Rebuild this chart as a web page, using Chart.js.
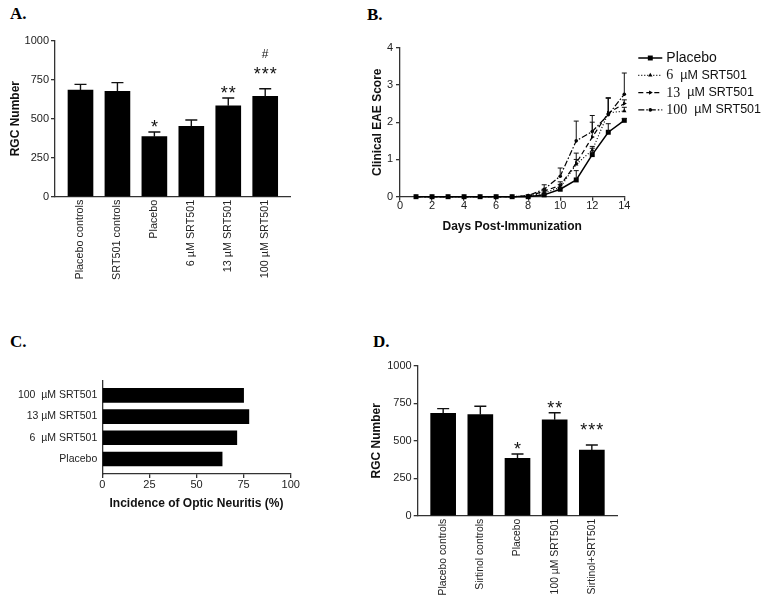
<!DOCTYPE html>
<html>
<head>
<meta charset="utf-8">
<script src="https://cdn.jsdelivr.net/npm/chart.js@4/dist/chart.umd.min.js"></script>
<style>
html, body { margin: 0; padding: 0; background: #fff; }
body { width: 762px; height: 603px; position: relative; overflow: hidden; }
canvas { position: absolute; }
.tag { position: absolute; font: bold 17px "Liberation Serif", "Times New Roman", serif; line-height: 17px; color: #000; }
</style>
</head>
<body>
<div class="tag" style="left:10px;top:5px">A.</div>
<div class="tag" style="left:367px;top:6px">B.</div>
<div class="tag" style="left:10px;top:333px">C.</div>
<div class="tag" style="left:373px;top:333px">D.</div>

<canvas id="chartA" width="300" height="300" style="left:0;top:0"></canvas>
<canvas id="chartB" width="402" height="250" style="left:360px;top:0"></canvas>
<canvas id="chartC" width="340" height="200" style="left:0;top:320px"></canvas>
<canvas id="chartD" width="280" height="283" style="left:360px;top:320px"></canvas>

<script>
// ---- data ----

// A: RGC number per group
const groupsA = ['Placebo controls', 'SRT501 controls', 'Placebo', '6 µM SRT501', '13 µM SRT501', '100 µM SRT501'];
const rgcA = [684, 676, 385, 451, 583, 643];
const semA = [36, 55, 30, 41, 50, 49];
const starsA = ['', '', '*', '', '**', '***'];
const hashA = ['', '', '', '', '', '#'];

// B: clinical EAE score by day
const daysB = [1, 2, 3, 4, 5, 6, 7, 8, 9, 10, 11, 12, 13, 14];
const placeboB = [0, 0, 0, 0, 0, 0, 0, 0, 0.05, 0.2, 0.45, 1.13, 1.73, 2.05];
const semPlaceboB = [0, 0, 0, 0, 0, 0, 0, 0, 0.02, 0.05, 0.25, 0.17, 0.23, 0.05];
const srt6B = [0, 0, 0, 0, 0, 0, 0, 0.02, 0.1, 0.25, 0.87, 1.25, 2.25, 2.3];
const semSrt6B = [0, 0, 0, 0, 0, 0, 0, 0, 0.05, 0.08, 0.3, 0.1, 0.4, 0.1];
const srt13B = [0, 0, 0, 0, 0, 0, 0, 0.01, 0.15, 0.3, 0.9, 1.6, 2.25, 2.5];
const semSrt13B = [0, 0, 0, 0, 0, 0, 0, 0, 0.05, 0.1, 0.1, 0.4, 0.4, 0.1];
const srt100B = [0, 0, 0, 0, 0, 0, 0, 0.03, 0.2, 0.55, 1.5, 1.75, 2.2, 2.75];
const semSrt100B = [0, 0, 0, 0, 0, 0, 0, 0, 0.12, 0.22, 0.53, 0.43, 0.45, 0.57];
const seriesNamesB = ['Placebo', '6  µM SRT501', '13  µM SRT501', '100  µM SRT501'];

// C: incidence of optic neuritis (%), bottom to top
const groupsC = ['Placebo', '6  µM SRT501', '13 µM SRT501', '100  µM SRT501'];
const incidenceC = [63.6, 71.4, 77.8, 75];

// D: RGC number with sirtinol
const groupsD = ['Placebo controls', 'Sirtinol controls', 'Placebo', '100 µM SRT501', 'Sirtinol+SRT501'];
const rgcD = [684, 675, 383, 641, 439];
const semD = [31, 56, 29, 47, 33];
const starsD = ['', '', '*', '**', '***'];

// ---- defaults ----
Chart.defaults.font.family = '"Liberation Sans", Arial, Helvetica, sans-serif';
Chart.defaults.font.size = 11;
Chart.defaults.color = '#222';
Chart.defaults.animation = false;
Chart.defaults.plugins.legend.display = false;
Chart.defaults.plugins.tooltip.enabled = false;

const AXIS = '#333';
const axisBorder = { color: AXIS, width: 1.3 };
const axisGrid = { drawOnChartArea: false, tickLength: 4, color: AXIS, lineWidth: 1.3 };
const noGrid = { display: false, drawTicks: false, offset: false };
const titleFont = { size: 12, weight: 'bold' };
const plain = v => String(v);

// upward-only error bars, drawn through the y scale
function errorBarPlugin(errs, capHalf, width) {
    return {
        id: 'errbars',
        afterDatasetsDraw(chart) {
            const ctx = chart.ctx, yScale = chart.scales.y;
            ctx.save();
            ctx.strokeStyle = '#111';
            ctx.lineWidth = width;
            chart.data.datasets.forEach((ds, di) => {
                const e = errs[di];
                if (!e) return;
                chart.getDatasetMeta(di).data.forEach((el, i) => {
                    if (!e[i]) return;
                    const top = yScale.getPixelForValue(ds.data[i].y + e[i]);
                    ctx.beginPath();
                    ctx.moveTo(el.x, el.y);
                    ctx.lineTo(el.x, top);
                    ctx.moveTo(el.x - capHalf, top);
                    ctx.lineTo(el.x + capHalf, top);
                    ctx.stroke();
                });
            });
            ctx.restore();
        }
    };
}

// significance marks above the error caps
function starPlugin(values, errs, stars, hashes) {
    return {
        id: 'stars',
        afterDatasetsDraw(chart) {
            const ctx = chart.ctx, yScale = chart.scales.y;
            const bars = chart.getDatasetMeta(0).data;
            ctx.save();
            ctx.fillStyle = '#111';
            ctx.textAlign = 'center';
            ctx.textBaseline = 'alphabetic';
            stars.forEach((s, i) => {
                if (!s) return;
                const cap = yScale.getPixelForValue(values[i] + errs[i]);
                const base = cap + 1 - (s.length > 2 ? 10 : 0);
                ctx.font = '18px "Liberation Sans", Arial, sans-serif';
                ctx.letterSpacing = '1px';
                ctx.fillText(s, bars[i].x + 0.5, base);
                if (hashes && hashes[i]) {
                    ctx.letterSpacing = '0px';
                    ctx.font = '12px "Liberation Sans", Arial, sans-serif';
                    ctx.fillText(hashes[i], bars[i].x, base - 22);
                }
            });
            ctx.restore();
        }
    };
}

function drawMarker(ctx, style, x, y, r, rot) {
    ctx.beginPath();
    if (style === 'rect') {
        const s = Math.SQRT1_2 * r;
        ctx.rect(x - s, y - s, 2 * s, 2 * s);
    } else if (style === 'triangle') {
        let a = rot * Math.PI / 180;
        ctx.moveTo(x + Math.sin(a) * r, y - Math.cos(a) * r);
        for (let k = 0; k < 2; k++) {
            a += 2 * Math.PI / 3;
            ctx.lineTo(x + Math.sin(a) * r, y - Math.cos(a) * r);
        }
        ctx.closePath();
    } else {
        ctx.arc(x, y, r, 0, Math.PI * 2);
    }
    ctx.fill();
}

// legend to the right of panel B
const sideLegend = {
    id: 'sideLegend',
    afterDraw(chart) {
        const ctx = chart.ctx;
        const x0 = chart.chartArea.right + 14;
        chart.data.datasets.forEach((ds, i) => {
            const y = 58 + i * 17.3;
            ctx.save();
            ctx.strokeStyle = '#000';
            ctx.fillStyle = '#000';
            ctx.lineWidth = ds.borderWidth;
            ctx.setLineDash(ds.borderDash);
            ctx.beginPath();
            ctx.moveTo(x0, y);
            ctx.lineTo(x0 + 24, y);
            ctx.stroke();
            ctx.setLineDash([]);
            drawMarker(ctx, ds.pointStyle, x0 + 12, y, ds.pointRadius, ds.pointRotation);
            ctx.fillStyle = '#111';
            ctx.textBaseline = 'middle';
            let tx = x0 + 28;
            const m = ds.label.match(/^(\d+)\s+(.*)$/);
            if (m) {
                ctx.font = '14px "Liberation Serif", "Times New Roman", serif';
                ctx.fillText(m[1], tx, y + 0.5);
                tx += ctx.measureText(m[1]).width + 7;
                ctx.font = '12.5px "Liberation Sans", Arial, sans-serif';
                ctx.fillText(m[2], tx, y);
            } else {
                ctx.font = '14px "Liberation Sans", Arial, sans-serif';
                ctx.fillText(ds.label, tx, y);
            }
            ctx.restore();
        });
    }
};

// ---- A and D: vertical bar charts on a linear index axis ----
function rgcChart(id, labels, values, sem, stars, hashes, box) {
    const n = labels.length;
    return new Chart(document.getElementById(id), {
        type: 'bar',
        data: {
            datasets: [{
                data: values.map((v, i) => ({ x: i + 1, y: v })),
                backgroundColor: '#000',
                barThickness: 25
            }]
        },
        options: {
            responsive: false,
            layout: { padding: { top: box.top, right: box.right, left: 0, bottom: 0 } },
            scales: {
                x: {
                    type: 'linear', offset: false, min: 1 - box.edge, max: n + box.edge,
                    afterBuildTicks: s => { s.ticks = labels.map((_, i) => ({ value: i + 1 })); },
                    afterFit: s => { s.height = box.xh; },
                    ticks: { callback: v => labels[v - 1], minRotation: 90, maxRotation: 90, autoSkip: false, padding: 3, font: { size: box.lf } },
                    grid: noGrid,
                    border: axisBorder
                },
                y: {
                    min: 0, max: 1000,
                    afterFit: s => { s.width = box.yw; },
                    ticks: { stepSize: 250, padding: 2, callback: plain },
                    grid: axisGrid,
                    border: axisBorder,
                    title: { display: true, text: 'RGC Number', font: titleFont, color: '#111', padding: { top: box.tp, bottom: 0 } }
                }
            }
        },
        plugins: [errorBarPlugin([sem], 6, 1.4), starPlugin(values, sem, stars, hashes)]
    });
}

rgcChart('chartA', groupsA, rgcA, semA, starsA, hashA,
    { top: 40.7, right: 9.3, edge: 0.69, xh: 103.3, yw: 55, tp: 8, lf: 10.8 });
rgcChart('chartD', groupsD, rgcD, semD, starsD, null,
    { top: 46, right: 22.7, edge: 0.685, xh: 87.3, yw: 57.7, tp: 9.5, lf: 10.4 });

// ---- B: EAE score lines ----
const styleB = [
    { dash: [], point: 'rect', radius: 3.5, rot: 0, width: 1.5 },
    { dash: [1, 2], point: 'triangle', radius: 2.5, rot: 0, width: 1.2 },
    { dash: [5, 3], point: 'triangle', radius: 2.5, rot: 90, width: 1.2 },
    { dash: [6, 2, 1.5, 2], point: 'circle', radius: 1.8, rot: 0, width: 1.2 }
];
const valuesB = [placeboB, srt6B, srt13B, srt100B];
const semB = [semPlaceboB, semSrt6B, semSrt13B, semSrt100B];

new Chart(document.getElementById('chartB'), {
    type: 'line',
    data: {
        datasets: valuesB.map((vals, k) => ({
            label: seriesNamesB[k],
            data: vals.map((v, i) => ({ x: daysB[i], y: v })),
            borderColor: '#000',
            borderWidth: styleB[k].width,
            borderDash: styleB[k].dash,
            pointStyle: styleB[k].point,
            pointRotation: styleB[k].rot,
            pointRadius: styleB[k].radius,
            pointBackgroundColor: '#000',
            pointBorderWidth: 0,
            tension: 0,
            fill: false,
            clip: false
        }))
    },
    options: {
        responsive: false,
        layout: { padding: { top: 47.7, right: 137.7, left: 0, bottom: 0 } },
        scales: {
            x: {
                type: 'linear', min: 0, max: 14,
                afterFit: s => { s.height = 53.3; },
                ticks: { stepSize: 2, padding: -1 },
                grid: axisGrid,
                border: axisBorder,
                title: { display: true, text: 'Days Post-Immunization', font: titleFont, color: '#111', padding: { top: 0, bottom: 15.8 } }
            },
            y: {
                min: 0, max: 4,
                afterFit: s => { s.width = 40; },
                ticks: { stepSize: 1, padding: 3 },
                grid: axisGrid,
                border: axisBorder,
                title: { display: true, text: 'Clinical EAE Score', font: titleFont, color: '#111', padding: { top: 10.8, bottom: 0 } }
            }
        }
    },
    plugins: [errorBarPlugin(semB, 2.5, 1), sideLegend]
});

// ---- C: horizontal bars ----
new Chart(document.getElementById('chartC'), {
    type: 'bar',
    data: {
        datasets: [{
            data: incidenceC.map((v, i) => ({ x: v, y: i + 1 })),
            backgroundColor: '#000',
            barThickness: 14
        }]
    },
    options: {
        indexAxis: 'y',
        responsive: false,
        layout: { padding: { top: 61, right: 49.3, left: 0, bottom: 0 } },
        scales: {
            x: {
                min: 0, max: 100,
                afterFit: s => { s.height = 46; },
                ticks: { stepSize: 25, padding: 0 },
                grid: axisGrid,
                border: axisBorder,
                title: { display: true, text: 'Incidence of Optic Neuritis (%)', font: titleFont, color: '#111', padding: { top: 0, bottom: 8.8 } }
            },
            y: {
                type: 'linear', offset: false, min: 0.29, max: 4.68,
                afterBuildTicks: s => { s.ticks = groupsC.map((_, i) => ({ value: i + 1 })); },
                afterFit: s => { s.width = 102.3; },
                ticks: { callback: v => groupsC[v - 1], padding: 5, font: { size: 10.5 } },
                grid: noGrid,
                border: axisBorder
            }
        }
    }
});
</script>
</body>
</html>
